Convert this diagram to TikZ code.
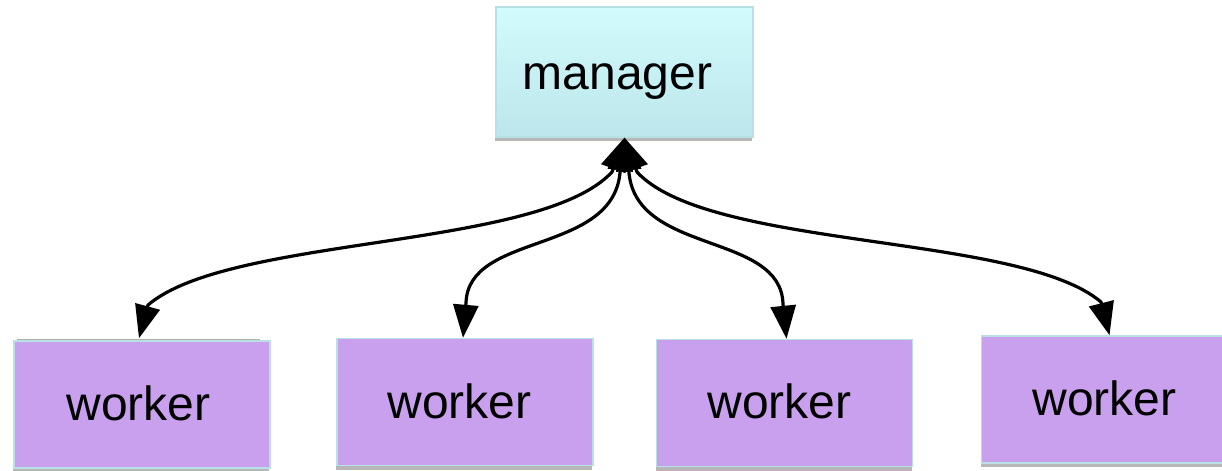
\documentclass[tikz,border=0pt]{standalone}
\usepackage{fontspec}
\setmainfont{Liberation Sans}
\usetikzlibrary{arrows.meta,shadows}

\definecolor{workerfill}{RGB}{201,160,237}
\definecolor{boxedge}{RGB}{184,224,229}
\definecolor{mgrtop}{RGB}{210,251,253}
\definecolor{mgrbottom}{RGB}{188,230,235}
\definecolor{stripgray}{RGB}{172,176,166}

\tikzset{
  boxshadow/.style={drop shadow={shadow xshift=-0.5pt, shadow yshift=-2pt,
      opacity=0.4, fill=black!70}},
  mgrbox/.style={rectangle, draw=boxedge, line width=0.6pt,
      top color=mgrtop, bottom color=mgrbottom, boxshadow,
      minimum width=128.5pt, minimum height=65pt, inner sep=0pt},
  workerbox/.style={rectangle, draw=boxedge, line width=0.75pt,
      fill=workerfill, boxshadow,
      minimum width=128pt, minimum height=63.5pt, inner sep=0pt},
  boxlabel/.style={anchor=base, inner sep=0pt,
      font=\fontsize{24}{28}\selectfont, text=black},
  link/.style={line width=1.6pt, line join=round,
      {Triangle[length=16.5pt, width=12.5pt]}-{Triangle[length=16.5pt, width=12.5pt]}}
}

\begin{document}
\begin{tikzpicture}[x=0.5pt, y=-0.5pt]
  \useasboundingbox (0,0) rectangle (1222,471);

  % manager
  \node[mgrbox] (m) at (624.5,72) {};
  \node[boxlabel] (mt) at (617.5,90) {manager};

  % thin strip above the first worker
  \draw[stripgray, line width=1pt] (17,339.5) -- (260,339.5);

  % workers
  \node[workerbox] (w1) at (142,404.5) {};
  \node[workerbox] (w2) at (465,402) {};
  \node[workerbox] (w3) at (784.5,403) {};
  \node[workerbox] (w4) at (1109.5,399.5) {};

  \node[boxlabel] (t1) at (138.5,420) {worker};
  \node[boxlabel] (t2) at (459.5,418) {worker};
  \node[boxlabel] (t3) at (779.5,418) {worker};
  \node[boxlabel] (t4) at (1104.5,415) {worker};

  % arrow tip points on the worker tops
  \coordinate (e1) at ([xshift=-1.5pt, yshift=1pt]w1.north);
  \coordinate (e2) at ([xshift=-1pt]w2.north);
  \coordinate (e3) at ([xshift=1pt]w3.north);
  \coordinate (e4) at (w4.north);

  % two-way links between the manager and each worker
  \draw[link] (m.south) -- (612,172)
      .. controls (540,250) and (230,235) .. (148,305) -- (e1);
  \draw[link] (m.south) -- (620,173)
      .. controls (612,255) and (468,232) .. (466,303) -- (e2);
  \draw[link] (m.south) -- (629,173)
      .. controls (637,255) and (781,232) .. (783,304) -- (e3);
  \draw[link] (m.south) -- (637,172)
      .. controls (709,250) and (1020,233) .. (1101,302) -- (e4);
\end{tikzpicture}
\end{document}
